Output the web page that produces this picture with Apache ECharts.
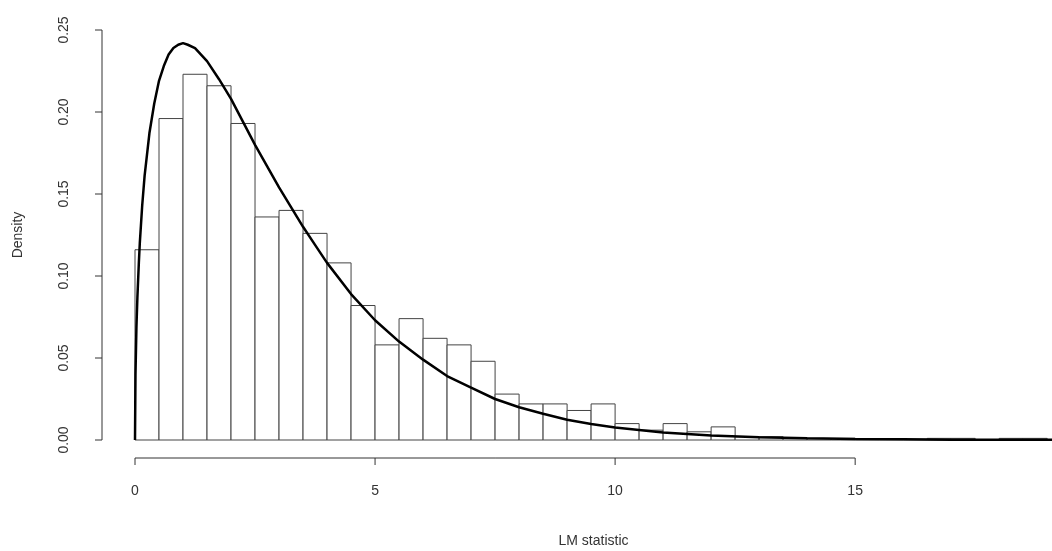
<!DOCTYPE html>
<html>
<head>
<meta charset="utf-8">
<script src="https://cdn.jsdelivr.net/npm/echarts@6/dist/echarts.min.js"></script>
<style>html,body{margin:0;background:#fff}#chart{width:1052px;height:551px}</style>
</head>
<body>
<div id="chart"></div>
<script>
// histogram bins (width 0.5) starting at 0
const binWidth = 0.5;
const binDensity = [0.116, 0.196, 0.223, 0.216, 0.193, 0.136, 0.140, 0.126, 0.108, 0.082,
    0.058, 0.074, 0.062, 0.058, 0.048, 0.028, 0.022, 0.022, 0.018, 0.022,
    0.010, 0.006, 0.010, 0.005, 0.008, 0.002, 0.002, 0.001, 0.001, 0.001,
    0.0005, 0.0005, 0.0005, 0.001, 0.001, 0.0, 0.001, 0.001];
// density curve
const curveX = [0, 0.01, 0.03, 0.05, 0.08, 0.1, 0.15, 0.2, 0.3, 0.4, 0.5, 0.6, 0.7, 0.8, 0.9, 1, 1.1, 1.25,
    1.5, 1.75, 2, 2.25, 2.5, 2.75, 3, 3.25, 3.5, 3.75, 4, 4.5, 5, 5.5, 6, 6.5, 7, 7.5, 8, 8.5, 9, 9.5, 10,
    11, 12, 13, 14, 15, 16, 17, 18, 19.1];
const curveY = [0, 0.040, 0.069, 0.087, 0.108, 0.120, 0.143, 0.161, 0.187, 0.205, 0.219, 0.228, 0.235,
    0.239, 0.241, 0.242, 0.241, 0.239, 0.231, 0.220, 0.208, 0.194, 0.180, 0.167, 0.154, 0.142, 0.130,
    0.119, 0.108, 0.089, 0.073, 0.060, 0.049, 0.039, 0.032, 0.025, 0.020, 0.016, 0.0124, 0.0097, 0.0076,
    0.0046, 0.0028, 0.0017, 0.0010, 0.0006, 0.0004, 0.0002, 0.00015, 0.0001];
const xTickValues = [0, 5, 10, 15];
const yTickValues = [0, 0.05, 0.10, 0.15, 0.20, 0.25];
const yTicks = ['0.00', '0.05', '0.10', '0.15', '0.20', '0.25'];

const chart = echarts.init(document.getElementById('chart'));
const font = 'Liberation Sans, Arial, sans-serif';
const txt = { color: '#333', fontSize: 14, fontFamily: font };

chart.setOption({
    animation: false,
    grid: { left: 135, right: 0, top: 30, bottom: 111, outerBoundsMode: 'none', containLabel: false },
    xAxis: {
        type: 'value', min: 0, max: 19.1, interval: 5,
        axisLine: { show: false },
        axisTick: { show: false },
        axisLabel: Object.assign({ margin: 44, showMaxLabel: false, formatter: v => v <= 15 ? String(v) : '' }, txt),
        splitLine: { show: false },
        name: 'LM statistic', nameLocation: 'middle', nameGap: 94, nameTextStyle: txt
    },
    yAxis: {
        type: 'value', min: 0, max: 0.25, interval: 0.05,
        axisLine: { show: false },
        axisTick: { show: false },
        axisLabel: Object.assign({ rotate: 90, margin: 64, formatter: (v, i) => yTicks[i] }, txt),
        splitLine: { show: false },
        name: 'Density', nameLocation: 'middle', nameGap: 110, nameTextStyle: txt
    },
    series: [{
        type: 'custom',
        data: binDensity.map((d, i) => [i * binWidth, (i + 1) * binWidth, d]),
        renderItem: function (params, api) {
            const p0 = api.coord([api.value(0), 0]);
            const p1 = api.coord([api.value(1), api.value(2)]);
            return {
                type: 'rect',
                shape: { x: p0[0], y: p1[1], width: p1[0] - p0[0], height: p0[1] - p1[1] },
                style: { fill: '#fff', stroke: '#444', lineWidth: 1 }
            };
        },
        z: 1
    }, {
        type: 'line',
        data: curveX.map((x, i) => [x, curveY[i]]),
        smooth: false, showSymbol: false,
        lineStyle: { color: '#000', width: 2.5 },
        z: 3
    }]
});

// R-style detached axes: x line only 0..15, y line offset left of the plot
const xOff = 18, yOff = 33, tick = 7;
const stroke = { stroke: '#333', lineWidth: 1 };
const g = [];
const x0 = chart.convertToPixel({ gridIndex: 0 }, [0, 0]);
const x15 = chart.convertToPixel({ gridIndex: 0 }, [15, 0]);
const ax = x0[1] + xOff;
g.push({ type: 'line', shape: { x1: x0[0], y1: ax, x2: x15[0], y2: ax }, style: stroke });
xTickValues.forEach(v => {
    const p = chart.convertToPixel({ gridIndex: 0 }, [v, 0]);
    g.push({ type: 'line', shape: { x1: p[0], y1: ax, x2: p[0], y2: ax + tick }, style: stroke });
});
const yl = x0[0] - yOff;
const yTop = chart.convertToPixel({ gridIndex: 0 }, [0, 0.25]);
g.push({ type: 'line', shape: { x1: yl, y1: x0[1], x2: yl, y2: yTop[1] }, style: stroke });
yTickValues.forEach(v => {
    const p = chart.convertToPixel({ gridIndex: 0 }, [0, v]);
    g.push({ type: 'line', shape: { x1: yl, y1: p[1], x2: yl - tick, y2: p[1] }, style: stroke });
});
chart.setOption({ graphic: g });
</script>
</body>
</html>
